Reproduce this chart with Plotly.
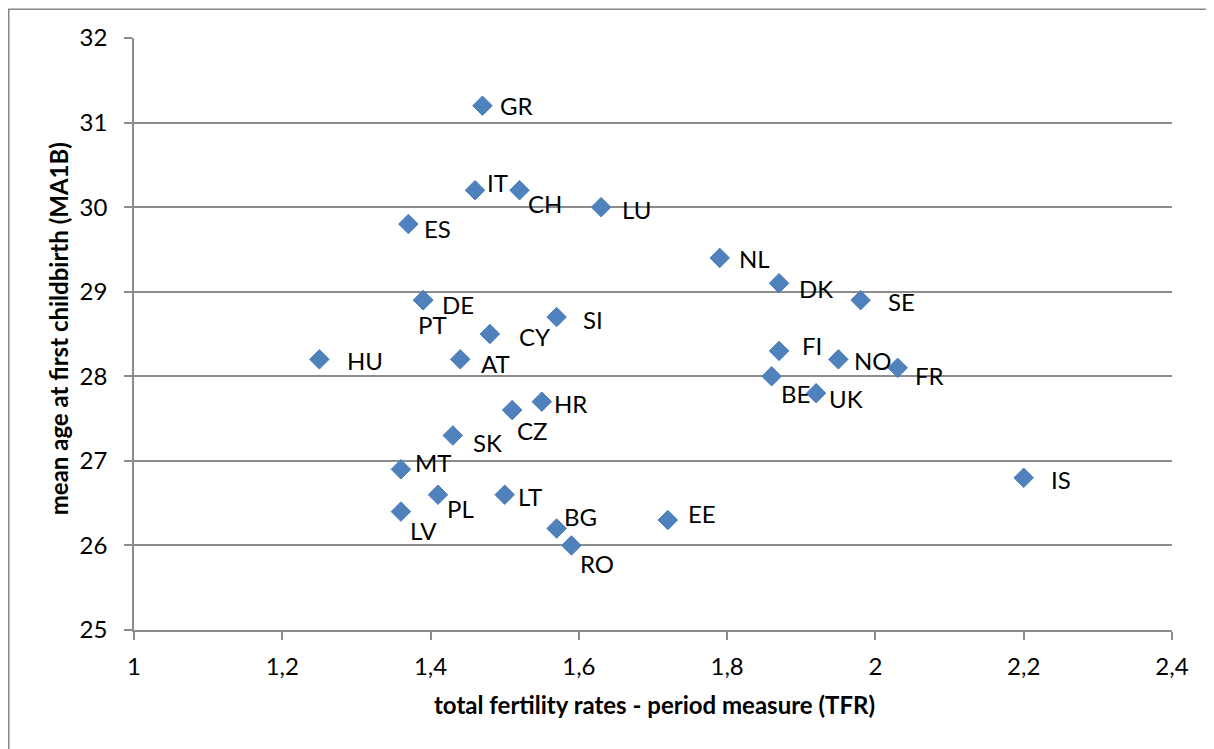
import plotly.graph_objects as go

countries = ["GR", "IT", "CH", "LU", "ES", "NL", "DK", "SE", "DE", "PT", "SI", "CY",
             "FI", "HU", "AT", "NO", "FR", "BE", "UK", "HR", "CZ", "SK", "MT", "IS",
             "PL", "LT", "LV", "EE", "BG", "RO"]
tfr = [1.47, 1.46, 1.52, 1.63, 1.37, 1.79, 1.87, 1.98, 1.39, 1.39, 1.57, 1.48,
       1.87, 1.25, 1.44, 1.95, 2.03, 1.86, 1.92, 1.55, 1.51, 1.43, 1.36, 2.20,
       1.41, 1.50, 1.36, 1.72, 1.57, 1.59]
ma1b = [31.2, 30.2, 30.2, 30.0, 29.8, 29.4, 29.1, 28.9, 28.9, 28.9, 28.7, 28.5,
        28.3, 28.2, 28.2, 28.2, 28.1, 28.0, 27.8, 27.7, 27.6, 27.3, 26.9, 26.8,
        26.6, 26.6, 26.4, 26.3, 26.2, 26.0]

x_ticks = [1.0, 1.2, 1.4, 1.6, 1.8, 2.0, 2.2, 2.4]
x_tick_text = ["1", "1,2", "1,4", "1,6", "1,8", "2", "2,2", "2,4"]
y_ticks = [25, 26, 27, 28, 29, 30, 31, 32]

# label offsets in pixels (dx right, dy down) relative to marker centre
label_offsets = {
    "GR": (16, 0), "IT": (10, -8), "CH": (6, 13), "LU": (19, 2), "ES": (14, 4),
    "NL": (17, 1), "DK": (18, 5), "SE": (25, 1), "DE": (17, 4), "PT": (-7, 24),
    "SI": (24, 2), "CY": (27, 2), "FI": (21, -5), "HU": (26, 1), "AT": (19, 4),
    "NO": (14, 1), "FR": (15, 8), "BE": (7, 17), "UK": (11, 5), "HR": (10, 2),
    "CZ": (3, 20), "SK": (18, 7), "MT": (12, -7), "IS": (25, 2), "PL": (7, 14),
    "LT": (11, 2), "LV": (7, 19), "EE": (18, -7), "BG": (5, -12), "RO": (7, 18),
}

FONT = "Lato, Open Sans, sans-serif"
GRID = "#8c8c8c"

# plot area in figure pixels (page body has an 8px margin)
L, R, T, B = 126, 1164, 29.5, 622
PW, PH = R - L, B - T

fig = go.Figure()
fig.add_trace(go.Scatter(
    x=tfr, y=ma1b, mode="markers",
    marker=dict(symbol="diamond", size=15, color="#4F81BD",
                line=dict(color="#4A7EBB", width=1)),
    hoverinfo="text", text=countries, showlegend=False,
))

annotations = []
for c, xv, yv in zip(countries, tfr, ma1b):
    dx, dy = label_offsets[c]
    annotations.append(dict(
        x=xv, y=yv, xref="x", yref="y", text=c, showarrow=False,
        xanchor="left", yanchor="middle", xshift=dx, yshift=-dy,
        font=dict(family=FONT, size=24, color="#000000"),
    ))

annotations.append(dict(
    x=(646 - L) / PW, y=(B - 697) / PH, xref="paper", yref="paper",
    xanchor="center", yanchor="middle",
    text="<b>total fertility rates - period measure (TFR)</b>", showarrow=False,
    font=dict(family=FONT, size=24, color="#000000"),
))
annotations.append(dict(
    x=(50 - L) / PW, y=(B - 321) / PH, xref="paper", yref="paper",
    xanchor="center", yanchor="middle",
    text="<b>mean age at first childbirth (MA1B)</b>", showarrow=False, textangle=-90,
    font=dict(family=FONT, size=24, color="#000000"),
))

fig.update_layout(
    width=1214, height=749,
    margin=dict(l=L, r=1214 - R, t=T, b=749 - B),
    paper_bgcolor="white", plot_bgcolor="white",
    annotations=annotations,
    shapes=[dict(type="rect", xref="paper", yref="paper",
                 x0=(0.75 - L) / PW, x1=(1300 - L) / PW,
                 y0=(B - 800) / PH, y1=(B - 0.75) / PH,
                 line=dict(color="#868686", width=1.5), fillcolor="rgba(0,0,0,0)",
                 layer="below")],
    xaxis=dict(range=[1, 2.4], tickvals=x_ticks, ticktext=x_tick_text,
               showgrid=False, zeroline=False,
               showline=True, linecolor=GRID, linewidth=1.5,
               ticks="outside", ticklen=8, tickcolor=GRID, tickwidth=1.5,
               tickfont=dict(family=FONT, size=24, color="#000000"),
               ticklabelstandoff=6),
    yaxis=dict(range=[25, 32], tickvals=y_ticks,
               showgrid=True, gridcolor=GRID, gridwidth=1.5, zeroline=False,
               showline=True, linecolor=GRID, linewidth=1.5,
               ticks="outside", ticklen=8, tickcolor=GRID, tickwidth=1.5,
               tickfont=dict(family=FONT, size=24, color="#000000"),
               ticklabelstandoff=12),
)

fig.write_html("out.html")
